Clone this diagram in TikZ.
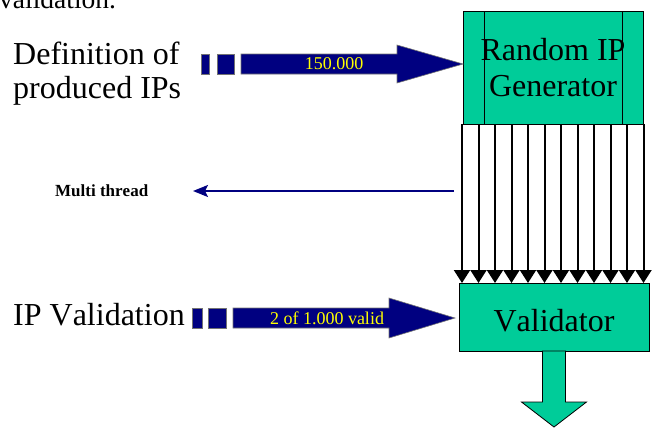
\documentclass[tikz,border=0pt]{standalone}
\usepackage{fontspec}
\setmainfont{Liberation Serif}[Kerning=Off]
\usetikzlibrary{arrows.meta}
\definecolor{navyblue}{RGB}{0,0,128}
\definecolor{boxgreen}{RGB}{0,204,153}
\definecolor{labelyellow}{RGB}{255,255,0}
\begin{document}
\begin{tikzpicture}[x=1pt,y=-1pt,
  greenbox/.style={draw=black, line width=0.8pt, fill=boxgreen, inner sep=0pt,
    outer sep=0pt, font=\fontsize{32}{36}\selectfont, align=center},
  greenshape/.style={draw=black, line width=0.8pt, fill=boxgreen},
  navyblock/.style={fill=navyblue, draw=black!55, line width=0.6pt},
  bigtext/.style={font=\fontsize{32}{34}\selectfont, inner sep=0pt, anchor=base west, align=left},
  arrowlabel/.style={text=labelyellow, font=\fontsize{18}{18}\selectfont, inner sep=0pt},
  thread/.style={draw=black, line width=2pt, -{Triangle[width=16pt,length=13pt]}},
  threadnote/.style={draw=navyblue, line width=2pt, -{Stealth[length=15pt,width=12pt,inset=3pt]}}]
\useasboundingbox (0,0) rectangle (656,437);
\clip (0,0) rectangle (656,437);

% tail of the running text above the figure
\node[inner sep=0pt, anchor=base west, font=\fontsize{27.5}{30}\selectfont] (prev) at (-1,8) {validation.};

% generator and validator blocks
\node[greenbox, minimum width=180pt, minimum height=113pt] (gen) at (553,67.5) {Random IP\\Generator};
\draw[line width=0.8pt] ([xshift=21pt]gen.north west) -- ([xshift=21pt]gen.south west);
\draw[line width=0.8pt] ([xshift=-21pt]gen.north east) -- ([xshift=-21pt]gen.south east);

\node[greenbox, minimum width=190pt, minimum height=68pt, text height=30pt] (val) at (554,317) {Validator};

% twelve parallel worker threads
\foreach \i in {0,...,11} {
  \path (gen.south west) ++(\i*16.5-1,0) coordinate (t\i);
  \draw[thread] (t\i) -- (t\i |- val.north);
}

% output arrow below the validator
\draw[greenshape] (val.south) ++(-11.5,0) -- ++(0,51) -- ++(-21,0) -- ++(32.5,25)
  -- ++(32.5,-25) -- ++(-21,0) -- ++(0,-51) -- cycle;

% input: number of produced IPs (anchor is the baseline of the last line)
\node[bigtext] (def) at (13,98) {Definition of\\produced IPs};
\draw[navyblock] (201,54) rectangle (209,74);
\draw[navyblock] (217,54) rectangle (234,74);
\coordinate (in1) at (463,64);
\draw[navyblock] (241,54) -- (397,54) -- (397,45) -- (in1) -- (397,83) -- (397,74) -- (241,74) -- cycle;
\node[arrowlabel] (n150) at (334,64) {150.000};

% multi thread note
\node[inner sep=0pt, anchor=west, font=\bfseries\fontsize{17}{17}\selectfont] (mt) at (55,191) {Multi thread};
\coordinate (mtstart) at (454,191);
\coordinate (mtend) at (193,191);
\draw[threadnote] (mtstart) -- (mtend);

% validation rate
\node[bigtext] (ipv) at (13,325) {IP Validation};
\draw[navyblock] (192,308) rectangle (202,328);
\draw[navyblock] (208,308) rectangle (226,328);
\coordinate (in2) at (455,318);
\draw[navyblock] (233,308) -- (389,308) -- (389,298) -- (in2) -- (389,338) -- (389,328) -- (233,328) -- cycle;
\node[arrowlabel] (nvalid) at (327,318) {2 of 1.000 valid};
\end{tikzpicture}
\end{document}
